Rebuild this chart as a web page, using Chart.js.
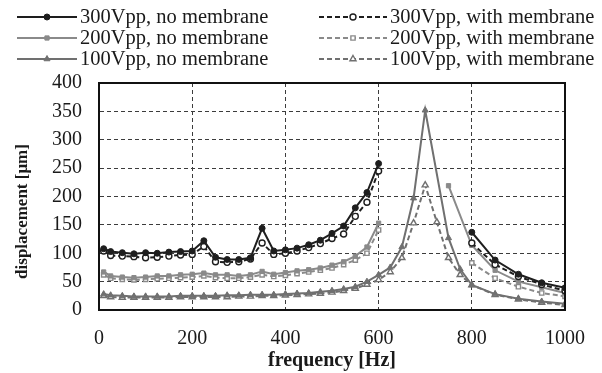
<!DOCTYPE html>
<html>
<head>
<meta charset="utf-8">
<script src="https://cdn.jsdelivr.net/npm/chart.js@4"></script>
<style>
  html, body { margin: 0; padding: 0; background: #fff; }
  #wrap { width: 602px; height: 373px; }
</style>
</head>
<body>
<div id="wrap"><canvas id="chart" width="602" height="373"></canvas></div>
<script>
// frequencies [Hz] for the 300Vpp and 200Vpp series (gap near resonance)
const freqA = [10, 25, 50, 75, 100, 125, 150, 175, 200, 225, 250, 275, 300, 325, 350, 375,
  400, 425, 450, 475, 500, 525, 550, 575, 600, 700, 750, 800, 850, 900, 950, 1000];
// frequencies [Hz] for the 100Vpp series
const freqB = [10, 25, 50, 75, 100, 125, 150, 175, 200, 225, 250, 275, 300, 325, 350, 375,
  400, 425, 450, 475, 500, 525, 550, 575, 600, 625, 650, 675, 700, 725, 750, 775, 800,
  850, 900, 950, 1000];

// displacement [um]
const v300no = [108, 103, 101, 99, 101, 100, 102, 103, 104, 122, 93, 89, 89, 92, 144, 104,
  106, 109, 115, 123, 135, 148, 180, 207, 258, null, null, 137, 88, 63, 48, 39];
const v300with = [104, 96, 95, 94, 92, 93, 95, 97, 98, 112, 85, 84, 85, 90, 118, 98,
  100, 104, 110, 117, 126, 134, 165, 190, 245, null, null, 118, 80, 59, 45, 34];
const v200no = [67, 60, 58, 57, 58, 60, 60, 62, 63, 65, 62, 62, 60, 62, 68, 63,
  66, 69, 71, 74, 79, 85, 95, 111, 153, null, 219, 114, 70, 50, 40, 30];
const v200with = [62, 56, 54, 53, 54, 55, 56, 57, 58, 60, 57, 56, 56, 58, 62, 59,
  61, 64, 67, 70, 74, 80, 88, 100, 141, null, null, 83, 56, 41, 30, 24];
const v100no = [28, 26, 25, 24, 24, 24, 24, 25, 25, 25, 25, 26, 26, 27, 27, 27,
  28, 29, 30, 32, 34, 37, 41, 50, 62, 75, 111, 197, 352, null, 127, 72, 44,
  28, 20, 15, 11];
const v100with = [25, 23, 22, 22, 22, 22, 22, 23, 23, 23, 23, 23, 24, 24, 25, 25,
  26, 27, 28, 29, 31, 34, 38, 45, 53, 67, 92, 153, 220, 155, 92, 62, 44,
  27, 19, 13, 9];

const labels = ['300Vpp, no membrane', '300Vpp, with membrane',
  '200Vpp, no membrane', '200Vpp, with membrane',
  '100Vpp, no membrane', '100Vpp, with membrane'];

const xTicks = [0, 200, 400, 600, 800, 1000];
const yTicks = [0, 50, 100, 150, 200, 250, 300, 350, 400];
const yTitle = 'displacement [μm]';

const C300 = '#1e1e1e';
const C200 = '#8a8a8a';
const C100 = '#707070';
const DASH = [5, 3];
const FONT = 'Liberation Serif';

function pts(xs, ys) {
  return xs.map((x, i) => ({ x: x, y: ys[i] }));
}

function series(label, xs, ys, color, dashed, style, radius, extra) {
  return Object.assign({
    label: label,
    data: pts(xs, ys),
    borderColor: color,
    borderWidth: 2,
    borderDash: dashed ? DASH : [],
    pointStyle: style,
    pointRadius: radius,
    pointBorderWidth: dashed ? 1.4 : 1,
    pointBorderColor: color,
    pointBackgroundColor: dashed ? '#ffffff' : color,
    tension: 0,
    spanGaps: false,
    fill: false
  }, extra || {});
}

const datasets = [
  series(labels[0], freqA, v300no, C300, false, 'circle', 3),
  series(labels[1], freqA, v300with, C300, true, 'circle', 3),
  series(labels[2], freqA, v200no, C200, false, 'rect', 3),
  series(labels[3], freqA, v200with, C200, true, 'rect', 3),
  series(labels[4], freqB, v100no, C100, false, 'triangle', 3.5, { spanGaps: true }),
  series(labels[5], freqB, v100with, C100, true, 'triangle', 3.5)
];

// legend in two columns: solid lines left, dashed lines right
const legendPlugin = {
  id: 'twoColLegend',
  afterDraw(chart) {
    const ctx = chart.ctx;
    const cols = [{ x0: 17, x1: 77, tx: 80 }, { x0: 319, x1: 387, tx: 390 }];
    const rows = [17, 38, 59];
    ctx.save();
    ctx.font = '20.5px "' + FONT + '"';
    ctx.textBaseline = 'middle';
    ctx.textAlign = 'left';
    chart.data.datasets.forEach((ds, i) => {
      const c = cols[i % 2];
      const y = rows[Math.floor(i / 2)];
      ctx.strokeStyle = ds.borderColor;
      ctx.lineWidth = 2;
      ctx.setLineDash(ds.borderDash);
      ctx.beginPath();
      ctx.moveTo(c.x0, y);
      ctx.lineTo(c.x1, y);
      ctx.stroke();
      ctx.setLineDash([]);
      ctx.fillStyle = ds.pointBackgroundColor;
      ctx.strokeStyle = ds.pointBorderColor;
      ctx.lineWidth = ds.pointBorderWidth;
      Chart.helpers.drawPoint(ctx, {
        pointStyle: ds.pointStyle, radius: ds.pointRadius, borderWidth: ds.pointBorderWidth
      }, (c.x0 + c.x1) / 2, y);
      ctx.fillStyle = '#1a1a1a';
      ctx.fillText(ds.label, c.tx, y + 1);
    });
    ctx.restore();
  }
};

// solid frame round the plot area, and the y title (sits a bit below centre)
const framePlugin = {
  id: 'frame',
  afterDraw(chart) {
    const a = chart.chartArea;
    const ctx = chart.ctx;
    ctx.save();
    ctx.strokeStyle = '#111';
    ctx.lineWidth = 2;
    ctx.strokeRect(a.left, a.top, a.right - a.left, a.bottom - a.top);
    ctx.translate(23, (a.top + a.bottom) / 2 + 15);
    ctx.rotate(-Math.PI / 2);
    ctx.font = 'bold 17px "' + FONT + '"';
    ctx.fillStyle = '#1a1a1a';
    ctx.textAlign = 'center';
    ctx.textBaseline = 'middle';
    ctx.fillText(yTitle, 0, 0);
    ctx.restore();
  }
};

new Chart(document.getElementById('chart'), {
  type: 'line',
  data: { datasets: datasets },
  plugins: [legendPlugin, framePlugin],
  options: {
    responsive: false,
    animation: false,
    layout: { padding: { top: 83, right: 21, left: 0, bottom: 0 } },
    plugins: {
      legend: { display: false },
      tooltip: { enabled: false }
    },
    scales: {
      x: {
        type: 'linear',
        min: 0,
        max: 1000,
        afterBuildTicks: (s) => { s.ticks = xTicks.map(v => ({ value: v })); },
        afterFit: (s) => { s.height = 63; },
        border: { display: true, color: '#111', width: 2, dash: [4, 3] },
        grid: { color: '#3c3c3c', lineWidth: 1, drawTicks: false },
        ticks: {
          color: '#1a1a1a', padding: 17, maxRotation: 0,
          font: { family: FONT, size: 20 },
          callback: (v) => String(v)
        },
        title: {
          display: true,
          text: 'frequency [Hz]',
          color: '#1a1a1a',
          padding: { top: 0, bottom: 0 },
          font: { family: FONT, size: 20, weight: 'bold' }
        }
      },
      y: {
        min: 0,
        max: 400,
        afterBuildTicks: (s) => { s.ticks = yTicks.map(v => ({ value: v })); },
        afterFit: (s) => { s.width = 99; },
        border: { display: true, color: '#111', width: 2, dash: [4, 3] },
        grid: { color: '#3c3c3c', lineWidth: 1, drawTicks: false },
        ticks: {
          color: '#1a1a1a', padding: 17,
          font: { family: FONT, size: 20 },
          callback: (v) => String(v)
        }
      }
    }
  }
});
</script>
</body>
</html>
